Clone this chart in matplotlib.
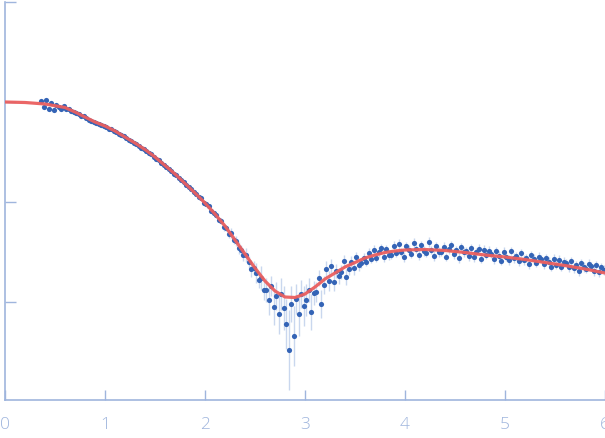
import numpy as np
import matplotlib
matplotlib.use("Agg")
import matplotlib.pyplot as plt

# scattering vector grid (step 0.025) and measured log-intensity
q = np.linspace(0.36, 5.985, 226)

log_i = [
    2.01, 1.95, 2.02, 1.93, 1.99, 1.92, 1.97, 1.95, 1.93, 1.96,
    1.93, 1.93, 1.91, 1.90, 1.89, 1.88, 1.86, 1.86, 1.84, 1.82,
    1.81, 1.80, 1.79, 1.78, 1.77, 1.76, 1.75, 1.73, 1.73, 1.71,
    1.70, 1.68, 1.67, 1.66, 1.64, 1.62, 1.61, 1.59, 1.58, 1.56,
    1.54, 1.53, 1.51, 1.49, 1.48, 1.45, 1.43, 1.42, 1.39, 1.37,
    1.35, 1.33, 1.31, 1.28, 1.27, 1.24, 1.22, 1.20, 1.17, 1.15,
    1.13, 1.10, 1.08, 1.05, 1.04, 0.99, 0.98, 0.96, 0.91, 0.89,
    0.87, 0.82, 0.81, 0.75, 0.74, 0.68, 0.69, 0.62, 0.61, 0.54,
    0.52, 0.47, 0.47, 0.40, 0.33, 0.34, 0.29, 0.22, 0.24, 0.12,
    0.12, 0.02, 0.16, -0.05, 0.06, -0.12, 0.08, -0.06, -0.22, -0.48,
    -0.02, -0.34, 0.03, -0.12, 0.08, -0.04, 0.02, 0.12, -0.10, 0.09,
    0.10, 0.24, -0.02, 0.17, 0.33, 0.21, 0.36, 0.20, 0.31, 0.26,
    0.30, 0.41, 0.25, 0.33, 0.40, 0.34, 0.45, 0.37, 0.39, 0.44,
    0.40, 0.49, 0.43, 0.52, 0.44, 0.50, 0.54, 0.45, 0.53, 0.47,
    0.47, 0.56, 0.49, 0.58, 0.50, 0.45, 0.56, 0.52, 0.48, 0.59,
    0.53, 0.47, 0.57, 0.51, 0.49, 0.60, 0.52, 0.46, 0.56, 0.50,
    0.50, 0.55, 0.45, 0.53, 0.57, 0.48, 0.52, 0.44, 0.55, 0.50,
    0.51, 0.46, 0.54, 0.45, 0.50, 0.53, 0.43, 0.52, 0.47, 0.51,
    0.48, 0.43, 0.51, 0.46, 0.41, 0.50, 0.45, 0.42, 0.51, 0.44,
    0.46, 0.41, 0.49, 0.42, 0.44, 0.38, 0.47, 0.43, 0.39, 0.45,
    0.43, 0.38, 0.44, 0.40, 0.35, 0.43, 0.37, 0.42, 0.35, 0.40,
    0.39, 0.35, 0.41, 0.34, 0.37, 0.31, 0.39, 0.35, 0.33, 0.38,
    0.36, 0.31, 0.37, 0.30, 0.35, 0.32,
]

log_err = (
    [0.01] * 60
    + [0.015] * 10
    + [0.03, 0.02, 0.03, 0.04, 0.03, 0.04, 0.05, 0.04, 0.05, 0.06]
    + [0.05, 0.06, 0.07, 0.06, 0.08, 0.07, 0.10, 0.08, 0.12, 0.10]
    + [0.12, 0.15, 0.10, 0.18, 0.14, 0.20, 0.16, 0.22, 0.25, 0.40]
    + [0.18, 0.30, 0.15, 0.22, 0.14, 0.20, 0.16, 0.12, 0.18, 0.12]
    + [0.10, 0.08, 0.14, 0.09, 0.08, 0.10, 0.07, 0.09, 0.07, 0.08]
    + [0.07, 0.06, 0.08, 0.06, 0.06, 0.07, 0.05, 0.06, 0.05, 0.05]
    + [0.04, 0.05] * 48
)

# model fit
fit_q = [0.0, 0.2, 0.4, 0.6, 0.7, 0.8, 0.9, 1.0, 1.1, 1.2, 1.3, 1.4, 1.5,
         1.6, 1.7, 1.8, 1.9, 2.0, 2.1, 2.2, 2.3, 2.4, 2.5, 2.6, 2.7, 2.8,
         2.9, 3.0, 3.1, 3.2, 3.3, 3.4, 3.5, 3.6, 3.7, 3.8, 3.9, 4.0, 4.2,
         4.4, 4.6, 4.8, 5.0, 5.2, 5.4, 5.6, 5.8, 6.0]
fit_i = [2.00, 1.995, 1.98, 1.945, 1.90, 1.85, 1.80, 1.76, 1.71, 1.65, 1.59,
         1.525, 1.45, 1.365, 1.28, 1.185, 1.09, 0.99, 0.88, 0.76, 0.62,
         0.48, 0.34, 0.21, 0.11, 0.05, 0.045, 0.08, 0.15, 0.23, 0.29, 0.35,
         0.395, 0.44, 0.47, 0.495, 0.51, 0.52, 0.525, 0.515, 0.495, 0.47,
         0.45, 0.425, 0.395, 0.365, 0.33, 0.29]

axis_col = "#9fb5dd"

fig = plt.figure(figsize=(6.05, 4.38), dpi=100)
ax = fig.add_axes([5 / 605, 38 / 438, 600 / 605, 398 / 438])

ax.errorbar(q, log_i, yerr=log_err, fmt="none", ecolor="#c9d7ee",
            elinewidth=1, zorder=1)
ax.scatter(q, log_i, s=14, color="#3464b6", marker="o", linewidths=0,
           zorder=2)
ax.plot(fit_q, fit_i, color="#ea5f5f", lw=2.3, alpha=0.95, zorder=3,
        solid_capstyle="round")

ax.set_xlim(0, 6)
ax.set_ylim(-0.98, 3)
ax.set_xticks([0, 1, 2, 3, 4, 5, 6])
ax.set_yticks([0, 1, 2, 3])
ax.set_yticklabels([])

for side in ["top", "right"]:
    ax.spines[side].set_visible(False)
for side in ["left", "bottom"]:
    ax.spines[side].set_color(axis_col)
    ax.spines[side].set_linewidth(1.2)

ax.tick_params(axis="x", direction="in", length=7, width=1, color=axis_col,
               labelcolor=axis_col, labelsize=12.5, pad=12)
ax.tick_params(axis="y", direction="in", length=8, width=1, color=axis_col)
for lab in ax.get_xticklabels():
    lab.set_fontfamily("Open Sans")
    lab.set_fontweight("light")

fig.savefig("out.png", dpi=100)
